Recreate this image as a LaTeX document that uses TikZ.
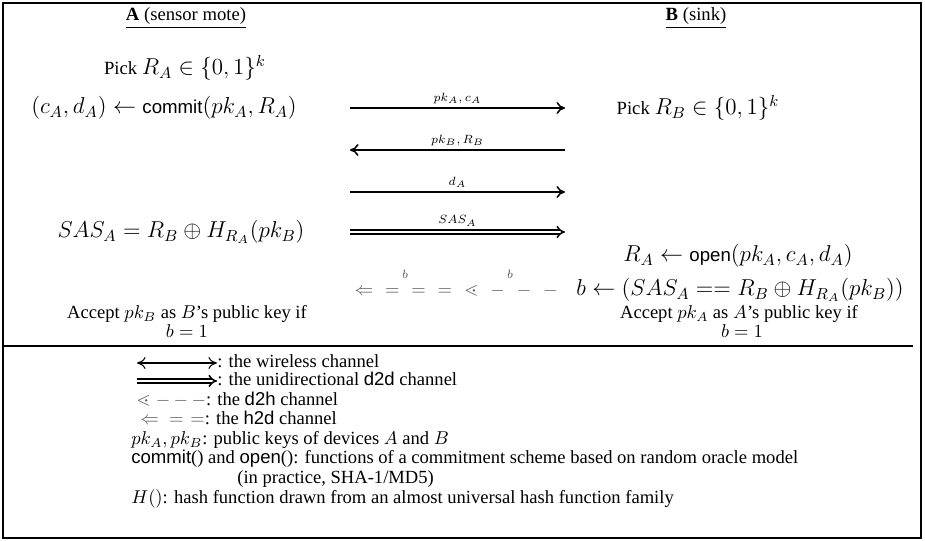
\RequirePackage{fix-cm}
\documentclass[11pt,tikz,border=0pt]{standalone}
\usepackage{amsmath,amssymb}
\usepackage{fontspec}
\setmainfont{Liberation Serif}
\setsansfont{Liberation Sans}
\usetikzlibrary{arrows.meta}
\DeclareMathSizes{10.95}{13.5}{9.4}{6.8}
\DeclareMathSizes{8}{7}{5.5}{5}

\newcommand{\cmt}{\textsf{commit}}
\newcommand{\opn}{\textsf{open}}
\newcommand{\hgap}{\hspace{7pt}}
\newcommand{\plain}{\fontsize{10.9}{13}\selectfont}

\begin{document}
\begin{tikzpicture}[x=0.587pt,y=-0.587pt,
  msg/.style={line width=0.9pt,-{To[length=5pt,width=7pt]}},
  dmsg/.style={double,double distance=1.5pt,line width=0.9pt,-{Implies}},
  lbl/.style={above,inner sep=2pt,font=\scriptsize},
  hand/.style={text=black!65,inner sep=0pt},
  acc/.style={inner sep=0pt,font=\plain},
  key/.style={anchor=west,inner sep=0pt,font=\plain,text height=7pt,text depth=2pt}]
  \useasboundingbox (0,0) rectangle (925,541);

  %% Frame and rule
  \draw[line width=1pt] (3,3) rectangle (921,538);
  \coordinate (ruleL) at (3,346);
  \coordinate (ruleR) at (913,346);
  \draw[line width=1.3pt] (ruleL) -- (ruleR);

  %% Device A
  \node (devA) at (186,18) {\underline{\textbf{A} (sensor mote)}};
  \node (pickA) at (185,68) {Pick $R_A\in\{0,1\}^k$};
  \node (comA) at (164,108) {$(c_A,d_A)\leftarrow\cmt(pk_A,R_A)$};
  \node (sasA) at (181,232) {$SAS_A=R_B\oplus H_{R_A}(pk_B)$};
  \node[acc] (accA) at (187,314) {Accept $pk_B$ as $B$'s public key if};
  \node[acc] (accAb) at (187,331) {$b=1$};

  %% Device B
  \node (devB) at (696,18) {\underline{\textbf{B} (sink)}};
  \node (pickB) at (698,108) {Pick $R_B\in\{0,1\}^k$};
  \node (opnB) at (738,256) {$R_A\leftarrow\opn(pk_A,c_A,d_A)$};
  \node[inner sep=0pt] (chkB) at (740,290) {$b\leftarrow(SAS_A==R_B\oplus H_{R_A}(pk_B))$};
  \node[acc] (accB) at (739,314) {Accept $pk_A$ as $A$'s public key if};
  \node[acc] (accBb) at (742,331) {$b=1$};

  %% Messages
  \coordinate (m1s) at (350,108); \coordinate (m1e) at (565,108);
  \coordinate (m2s) at (565,150); \coordinate (m2e) at (350,150);
  \coordinate (m3s) at (350,192); \coordinate (m3e) at (565,192);
  \coordinate (m4s) at (350,232); \coordinate (m4e) at (565,232);
  \draw[msg] (m1s) -- node[lbl] {$pk_A,c_A$} (m1e);
  \draw[msg] (m2s) -- node[lbl] {$pk_B,R_B$} (m2e);
  \draw[msg] (m3s) -- node[lbl] {$d_A$} (m3e);
  \draw[dmsg] (m4s) -- node[lbl,yshift=1pt] {$SAS_A$} (m4e);

  %% Human channels
  \node[hand,anchor=east,font=\plain] (bline) at (558,291)
    {${\Leftarrow}\hgap{=}\hgap{=}\hgap{=}\hgap{\lessdot}\hgap{-}\hgap{-}\hgap{-}$};
  \node[hand,font=\scriptsize] (bh2d) at (405,274) {$b$};
  \node[hand,font=\scriptsize] (bd2h) at (510,274) {$b$};

  %% Legend
  \coordinate (k1) at (137,363);
  \coordinate (k2) at (137,381);
  \node[key] (t1) at (217,363) {: the wireless channel};
  \node[key] (t2) at (217,381) {: the unidirectional \textsf{d2d} channel};
  \draw[line width=0.6pt,{To[length=5pt,width=7pt]}-{To[length=5pt,width=7pt]}] (k1) -- (t1.west);
  \draw[dmsg] (k2) -- (t2.west);
  \node[key] (t3) at (136,401) {\textcolor{black!65}{${\lessdot}\hspace{3pt}{-}\hspace{2pt}{-}\hspace{2pt}{-}$}: the \textsf{d2h} channel};
  \node[key] (t4) at (140,420) {\textcolor{black!65}{${\Leftarrow}\hspace{6pt}{=}\hspace{4pt}{=}$}: the \textsf{h2d} channel};
  \node[key] (t5) at (131,440) {$pk_A,pk_B$: public keys of devices $A$ and $B$};
  \node[key] (t6) at (131,459) {\cmt() and \opn(): functions of a commitment scheme based on random oracle model};
  \node[key] (t7) at (237,479) {(in practice, SHA-1/MD5)};
  \node[key] (t8) at (131,499) {$H()$: hash function drawn from an almost universal hash function family};
\end{tikzpicture}
\end{document}
